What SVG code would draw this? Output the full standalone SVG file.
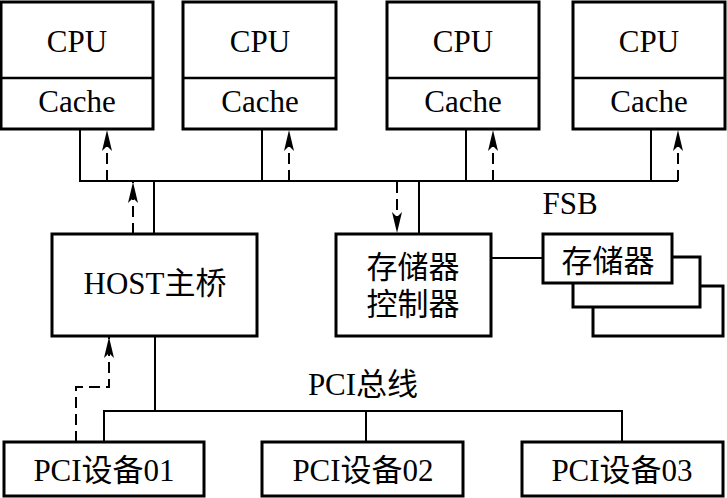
<svg xmlns="http://www.w3.org/2000/svg" width="727" height="498" viewBox="0 0 727 498" font-family="'Liberation Serif', 'Noto Sans CJK SC', serif" font-size="31">
<defs>
<marker id="ah" markerUnits="userSpaceOnUse" markerWidth="24" markerHeight="14" viewBox="-22 -7 24 14" refX="0" refY="0" orient="auto">
<path d="M0,0 L-21,-5 L-16,0 L-21,5 Z" fill="#000"/>
</marker>
</defs>
<style>
.box{fill:#fff;stroke:#000;stroke-width:3}
.div{stroke:#000;stroke-width:2.5}
.ln{fill:none;stroke:#000;stroke-width:2}
.dash{fill:none;stroke:#000;stroke-width:2;stroke-dasharray:11,6}
.t{fill:#000;text-anchor:middle}
</style>
<rect width="727" height="498" fill="#fff"/>
<g id="connectors">
<polyline class="ln" points="80,129 80,181 678,181"/>
<line class="ln" x1="262" y1="129" x2="262" y2="181"/>
<line class="ln" x1="466" y1="129" x2="466" y2="181"/>
<line class="ln" x1="651" y1="129" x2="651" y2="181"/>
<line class="ln" x1="154" y1="181" x2="154" y2="234"/>
<line class="ln" x1="419" y1="181" x2="419" y2="234"/>
<line class="dash" x1="107" y1="181" x2="107" y2="130" marker-end="url(#ah)"/>
<line class="dash" x1="289" y1="181" x2="289" y2="130" marker-end="url(#ah)"/>
<line class="dash" x1="493" y1="181" x2="493" y2="130" marker-end="url(#ah)"/>
<line class="dash" x1="678" y1="181" x2="678" y2="130" marker-end="url(#ah)"/>
<line class="dash" x1="133" y1="234" x2="133" y2="182" marker-end="url(#ah)"/>
<line class="dash" x1="397" y1="182" x2="397" y2="233" marker-end="url(#ah)"/>
<line class="ln" x1="491" y1="258" x2="543" y2="258"/>
<line class="ln" x1="155" y1="336" x2="155" y2="411"/>
<polyline class="ln" points="104,442 104,411 622,411 622,442"/>
<line class="ln" x1="366" y1="411" x2="366" y2="442"/>
<polyline class="dash" points="76,442 76,387 109,387 109,337" marker-end="url(#ah)"/>
<text class="t" x="570" y="214">FSB</text>
<text class="t" x="363" y="395">PCI总线</text>
</g>
<g id="cpu1">
<rect class="box" x="1" y="2" width="152" height="127"/>
<line class="div" x1="1" y1="78" x2="153" y2="78"/>
<text class="t" x="77" y="52">CPU</text>
<text class="t" x="77" y="112">Cache</text>
</g>
<g id="cpu2">
<rect class="box" x="183" y="2" width="153" height="127"/>
<line class="div" x1="183" y1="78" x2="336" y2="78"/>
<text class="t" x="260" y="52">CPU</text>
<text class="t" x="260" y="112">Cache</text>
</g>
<g id="cpu3">
<rect class="box" x="387" y="2" width="152" height="127"/>
<line class="div" x1="387" y1="78" x2="539" y2="78"/>
<text class="t" x="463" y="52">CPU</text>
<text class="t" x="463" y="112">Cache</text>
</g>
<g id="cpu4">
<rect class="box" x="573" y="2" width="152" height="127"/>
<line class="div" x1="573" y1="78" x2="725" y2="78"/>
<text class="t" x="649" y="52">CPU</text>
<text class="t" x="649" y="112">Cache</text>
</g>
<g id="host">
<rect class="box" x="52" y="234" width="205" height="102"/>
<text class="t" x="155" y="294">HOST主桥</text>
</g>
<g id="memctrl">
<rect class="box" x="336" y="234" width="155" height="102"/>
<text class="t" x="413" y="278">存储器</text>
<text class="t" x="413" y="315">控制器</text>
</g>
<g id="memory">
<rect class="box" x="593" y="286" width="130" height="50"/>
<rect class="box" x="573" y="257" width="127" height="50"/>
<rect class="box" x="543" y="234" width="129" height="49"/>
<text class="t" x="608" y="272">存储器</text>
</g>
<g id="pci1">
<rect class="box" x="4" y="442" width="200" height="54"/>
<text class="t" x="104" y="481">PCI设备01</text>
</g>
<g id="pci2">
<rect class="box" x="262" y="442" width="201" height="54"/>
<text class="t" x="363" y="481">PCI设备02</text>
</g>
<g id="pci3">
<rect class="box" x="522" y="442" width="201" height="54"/>
<text class="t" x="622" y="481">PCI设备03</text>
</g>
</svg>
